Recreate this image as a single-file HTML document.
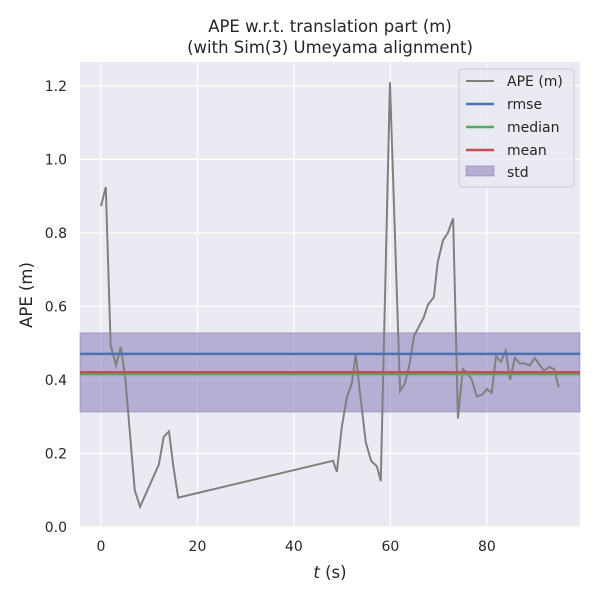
<!DOCTYPE html>
<html><head><meta charset="utf-8"><style>
body{margin:0;background:#fff;font-family:"Liberation Sans","DejaVu Sans",sans-serif}
svg text{font-family:"DejaVu Sans","Liberation Sans",sans-serif;fill:#262626}
</style></head><body>
<svg id="c" width="600" height="600">
<rect x="80" y="62" width="500" height="465" fill="#eaeaf2"/>
<g id="grid"></g><g id="marks"></g><g id="axes"></g>
<text x="330" y="32" text-anchor="middle" font-size="16.5">APE w.r.t. translation part (m)</text>
<text x="330" y="53" text-anchor="middle" font-size="16.5">(with Sim(3) Umeyama alignment)</text>
<text x="330" y="578" text-anchor="middle" font-size="16.5"><tspan font-style="italic">t</tspan> (s)</text>
<text transform="translate(32,295) rotate(-90)" text-anchor="middle" font-size="16.5">APE (m)</text>
<g>
<rect x="459" y="69" width="115" height="118" rx="3" fill="#eaeaf2" stroke="#cccccc" fill-opacity="0.8"/>
<line x1="466" y1="81" x2="494" y2="81" stroke="#808080" stroke-width="2"/><text x="507" y="86" font-size="14">APE (m)</text>
<line x1="466" y1="104" x2="494" y2="104" stroke="#4c72b0" stroke-width="2.5"/><text x="507" y="109" font-size="14">rmse</text>
<line x1="466" y1="127" x2="494" y2="127" stroke="#55a868" stroke-width="2.5"/><text x="507" y="132" font-size="14">median</text>
<line x1="466" y1="150" x2="494" y2="150" stroke="#c44e52" stroke-width="2.5"/><text x="507" y="155" font-size="14">mean</text>
<rect x="466" y="166" width="28" height="10" fill="#8172b3" fill-opacity="0.5" stroke="#8172b3" stroke-opacity="0.5"/><text x="507" y="177" font-size="14">std</text>
</g>
</svg>
<script>
const times=[0,1,2,3.1,4.1,5,7,8.1,12,13,14.1,15,16,48.1,48.9,49.9,51,52,52.8,53.6,54.9,56,57.2,58,59.9,62,63,64,64.9,65.9,66.9,67.8,69,69.8,70.9,71.9,73,74,75,75.9,76.9,77.9,79,80,81,81.9,82.9,83.9,84.8,85.8,86.8,87.7,88.9,89.9,91,91.8,92.9,93.9,94.9];
const apeValues=[0.873,0.925,0.495,0.44,0.49,0.41,0.10,0.055,0.17,0.245,0.26,0.165,0.08,0.18,0.15,0.27,0.355,0.39,0.47,0.375,0.23,0.18,0.165,0.125,1.21,0.37,0.39,0.445,0.52,0.545,0.57,0.605,0.625,0.72,0.78,0.80,0.84,0.295,0.43,0.42,0.40,0.355,0.36,0.375,0.365,0.465,0.45,0.48,0.40,0.46,0.445,0.445,0.44,0.46,0.44,0.425,0.435,0.43,0.38];
const stats=[0.471,0.416,0.421];
const stdBand=[0.313,0.528];
const xTicks=[0,20,40,60,80];
const yTicks=[0,0.2,0.4,0.6,0.8,1.0,1.2];
const NS='http://www.w3.org/2000/svg';
const X=t=>80+(t+4.35)/(103.65)*500;
const Y=v=>527-v/1.265*465;
function mk(tag,at,parent){const e=document.createElementNS(NS,tag);for(const k in at)e.setAttribute(k,at[k]);document.getElementById(parent).appendChild(e);return e;}
xTicks.forEach(t=>{
 const g=mk('line',{x1:X(t),x2:X(t),y1:62,y2:527,stroke:'#fff','stroke-width':1.2},'grid');
 
 
 const l=mk('text',{x:X(t),y:551,'text-anchor':'middle','font-size':14},'axes');l.textContent=t;
 
 
});
yTicks.forEach(v=>{
 const g=mk('line',{x1:80,x2:580,y1:Y(v),y2:Y(v),stroke:'#fff','stroke-width':1.2},'grid');
 
 
 const l=mk('text',{x:67,y:Y(v)+5,'text-anchor':'end','font-size':14},'axes');l.textContent=v.toFixed(1);
 
 
});
const band=mk('rect',{x:80,width:500,y:Y(stdBand[1]),height:Y(stdBand[0])-Y(stdBand[1]),fill:'#8172b3','fill-opacity':0.5,stroke:'#8172b3','stroke-opacity':0.5},'marks');


const path=mk('polyline',{points:times.map((t,i)=>X(t)+','+Y(apeValues[i])).join(' '),fill:'none',stroke:'#808080','stroke-width':2},'marks');


const cols=['#4c72b0','#55a868','#c44e52'],names=['rmse-line','median-line','mean-line'];
[0,1,2].forEach(i=>{
 const l=mk('line',{x1:80,x2:580,y1:Y(stats[i]),y2:Y(stats[i]),stroke:cols[i],'stroke-width':2.5},'marks');
 
 
});
</script>
</body></html>
